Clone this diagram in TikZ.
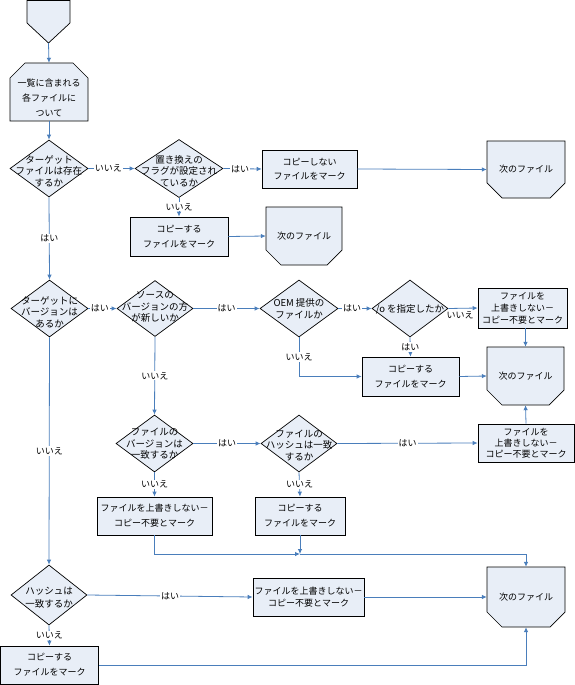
\documentclass[tikz,border=0pt]{standalone}
\usepackage{fontspec}
\newfontfamily\jpf{Noto Sans CJK JP}
\usetikzlibrary{shapes.geometric,arrows.meta}
\definecolor{fillc}{RGB}{232,238,247}
\definecolor{linec}{RGB}{74,126,187}
\tikzset{
 shp/.style={draw=black, fill=fillc, line width=0.7pt},
 dia/.style={shp, diamond, inner sep=0pt},
 box/.style={shp, rectangle, inner sep=0pt, align=center, font=\jpf\fontsize{9}{15}\selectfont},
 txt/.style={inner sep=0pt, align=center, font=\jpf\fontsize{9.5}{11.5}\selectfont},
 ghost/.style={inner sep=0pt, draw=none},
 con/.style={draw=linec, line width=0.8pt, -{Latex[length=5pt,width=4.5pt]}},
 lab/.style={fill=white, inner sep=1pt, font=\jpf\fontsize{9}{11}\selectfont},
 lab2/.style={inner sep=1pt, font=\jpf\fontsize{9}{11}\selectfont},
}
\newcommand\nfshape[5]{%
 \path[shp] ({#2-#4/2},{#3-#5/2}) -- ({#2+#4/2},{#3-#5/2}) -- ({#2+#4/2},{#3+#5/2-15}) -- ({#2+#4/2-15},{#3+#5/2}) -- ({#2-#4/2+15},{#3+#5/2}) -- ({#2-#4/2},{#3+#5/2-15}) -- cycle;
 \node[ghost, align=center, font=\jpf\fontsize{9}{11}\selectfont, minimum width=#4, minimum height=#5] (#1) at (#2,#3) {次のファイル};}
\begin{document}
\begin{tikzpicture}[x=1pt,y=-1pt]
\useasboundingbox (0,0) rectangle (575,685);
% start
\path[shp] (27,0.5) -- (70,0.5) -- (70,23) -- (48.5,43) -- (27,23) -- cycle;
\node[ghost, minimum width=43, minimum height=42.5] (start) at (48.5,21.75) {};
% loop start
\path[shp] (10,78) -- (25,63) -- (73,63) -- (88,78) -- (88,121) -- (10,121) -- cycle;
\node[ghost, minimum width=78, minimum height=58] (loop) at (49,92) {};
\node[txt, font=\jpf\fontsize{9}{15}\selectfont] at (49,98) {一覧に含まれる\\各ファイルに\\ついて};
% diamonds
\node[dia, minimum width=78, minimum height=57] (d1) at (49,168.5) {};
\node[txt] at (49,171) {ターゲット\\ファイルは存在\\するか};
\node[dia, minimum width=88, minimum height=58] (d2) at (179,168.5) {};
\node[txt] at (179,171) {置き換えの\\フラグが設定され\\ているか};
\node[dia, minimum width=77, minimum height=57] (d3) at (49.5,308.5) {};
\node[txt] at (49.5,312) {ターゲットに\\バージョンは\\あるか};
\node[dia, minimum width=76, minimum height=56] (d4) at (155,308.5) {};
\node[txt] at (155,307) {ソースの\\バージョンの方\\が新しいか};
\node[dia, minimum width=78, minimum height=57] (d5) at (299,308.5) {};
\node[txt] at (299,309) {OEM 提供の\\ファイルか};
\node[dia, minimum width=76, minimum height=57] (d6) at (410,308.5) {};
\node[txt] at (410,309.5) {/o を指定したか};
\node[dia, minimum width=77, minimum height=57] (d7) at (154.5,443.5) {};
\node[txt] at (154.5,444) {ファイルの\\バージョンは\\一致するか};
\node[dia, minimum width=76, minimum height=57] (d8) at (299,443.5) {};
\node[txt] at (299,445.5) {ファイルの\\ハッシュは一致\\するか};
\node[dia, minimum width=76, minimum height=60] (d9) at (49,595) {};
\node[txt, font=\jpf\fontsize{9.5}{13}\selectfont] at (49,597.5) {ハッシュは\\一致するか};
% boxes
\node[box, minimum width=95, minimum height=38, font=\jpf\fontsize{9}{14}\selectfont] (c1) at (309.5,169) {コピーしない\\ファイルをマーク};
\node[box, minimum width=98, minimum height=39] (c2) at (179,236.5) {コピーする\\ファイルをマーク};
\node[box, minimum width=97, minimum height=39] (c3) at (410.5,376.5) {コピーする\\ファイルをマーク};
\node[box, minimum width=90, minimum height=38] (c4) at (300,516) {コピーする\\ファイルをマーク};
\node[box, minimum width=98, minimum height=38] (c5) at (49.5,665) {コピーする\\ファイルをマーク};
\node[box, minimum width=89, minimum height=40, font=\jpf\fontsize{9}{12}\selectfont] (b1) at (522.5,308) {ファイルを\\上書きしない－\\コピー不要とマーク};
\node[box, minimum width=96, minimum height=38, font=\jpf\fontsize{9}{11}\selectfont] (b2) at (526,443) {ファイルを\\上書きしない－\\コピー不要とマーク};
\node[box, minimum width=115, minimum height=38] (b3) at (154.5,516) {ファイルを上書きしない－\\コピー不要とマーク};
\node[box, minimum width=111, minimum height=38, font=\jpf\fontsize{9}{12}\selectfont] (b4) at (308.5,597) {ファイルを上書きしない－\\コピー不要とマーク};
% loop ends
\nfshape{nf1}{526}{169.5}{78}{57}
\nfshape{nf2}{304}{236}{76}{58}
\nfshape{nf3}{525.5}{376}{77}{58}
\nfshape{nf4}{526}{597}{78}{60}
\coordinate (j) at (300,554);
% connectors
\draw[con] (start.south) -- (loop.north);
\draw[con] (loop.south) -- (d1.north);
\draw[con] (d1.east) -- node[lab, pos=0.43] {いいえ} (d2.west);
\draw[con] (d2.east) -- node[lab, pos=0.44] {はい} (c1.west);
\draw[con] (c1.east) -- (nf1.west);
\draw[con] (d2.south) -- node[lab, pos=0.47] {いいえ} (c2.north);
\draw[con] (c2.east) -- (nf2.west);
\draw[con] (d1.south) -- node[lab] {はい} (d3.north);
\draw[con] (d3.east) -- node[lab, pos=0.41] {はい} (d4.west);
\draw[con] (d4.east) -- node[lab] {はい} (d5.west);
\draw[con] (d5.east) -- node[lab, pos=0.41] {はい} (d6.west);
\draw[con] (d6.east) -- node[lab2, pos=0.4, anchor=north, yshift=-2pt] {いいえ} (b1.west);
\draw[con] (d6.south) -- node[lab] {はい} (c3.north);
\draw[con] (d5.south) |- node[lab, pos=0.25] {いいえ} (c3.west);
\draw[con] (c3.east) -- (nf3.west);
\draw[con] (nf3.north |- b1.south) -- (nf3.north);
\draw[con] (d4.south) -- node[lab] {いいえ} (d7.north);
\draw[con] (d7.east) -- node[lab] {はい} (d8.west);
\draw[con] (d8.east) -- node[lab] {はい} (b2.west);
\draw[con] (b2.north) -- (nf3.south);
\draw[con] (d7.south) -- node[lab] {いいえ} (b3.north);
\draw[con] (d8.south) -- node[lab] {いいえ} (c4.north);
\draw[con] (b3.south) |- (j);
\draw[con] (c4.south) -- (j);
\draw[con] (j) -| (nf4.north);
\draw[con] (d3.south) -- node[lab] {いいえ} (d9.north);
\draw[con] (d9.east) -- node[lab] {はい} (b4.west);
\draw[con] (b4.east) -- (nf4.west);
\draw[con] (d9.south) -- node[lab] {いいえ} (c5.north);
\draw[con] (c5.east) -| (nf4.south);
\end{tikzpicture}
\end{document}
